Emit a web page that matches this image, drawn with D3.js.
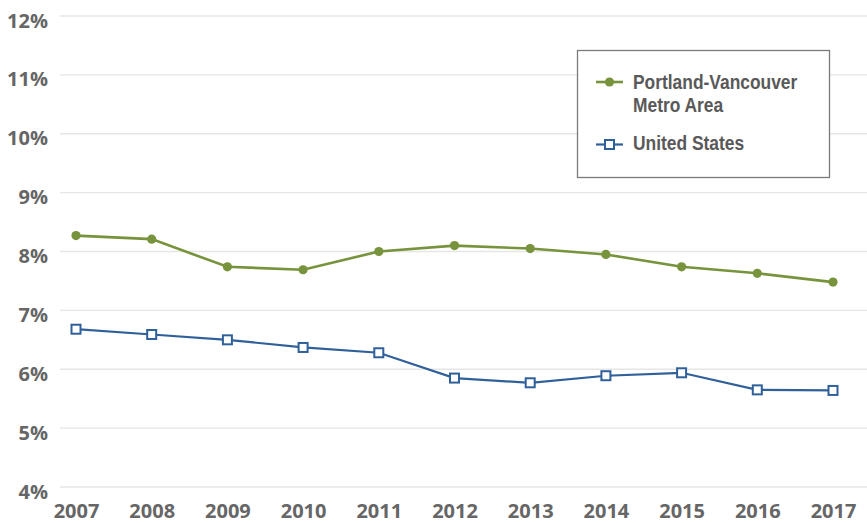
<!DOCTYPE html>
<html><head><meta charset="utf-8">
<script src="https://cdn.jsdelivr.net/npm/d3@7"></script>
<style>
html,body{margin:0;padding:0;background:#fff;}
svg{display:block;}
</style></head>
<body>
<svg id="chart" width="867" height="523"></svg>
<script>
const years = ["2007","2008","2009","2010","2011","2012","2013","2014","2015","2016","2017"];
const portland = [8.27, 8.21, 7.74, 7.69, 8.00, 8.10, 8.05, 7.95, 7.74, 7.63, 7.48];
const unitedStates = [6.68, 6.59, 6.50, 6.37, 6.28, 5.85, 5.77, 5.89, 5.94, 5.65, 5.64];
const yTicks = [4, 5, 6, 7, 8, 9, 10, 11, 12];
const seriesNames = ["Portland-Vancouver Metro Area", "United States"];

const svg = d3.select("#chart");
const green = "#77933c", blue = "#30609a";
const tickFont = "'Open Sans', 'Liberation Sans', sans-serif";
const legFont = "'Liberation Sans', Arial, sans-serif";

const x = d3.scalePoint().domain(years).range([76, 833]);
const y = d3.scaleLinear().domain([4, 12]).range([487, 16]);

// gridlines
svg.append("g").selectAll("line").data(yTicks).join("line")
  .attr("x1", 60).attr("x2", 867)
  .attr("y1", d => y(d)).attr("y2", d => y(d))
  .attr("stroke", "#e6e6e6").attr("stroke-width", 1.3);

// y axis
const yAxis = svg.append("g").attr("transform", "translate(48,0)")
  .call(d3.axisLeft(y).tickValues(yTicks).tickFormat(d => d + "%").tickSize(0).tickPadding(0));
yAxis.select(".domain").remove();
yAxis.selectAll("text").attr("font-family", tickFont).attr("font-weight", 700)
  .attr("font-size", 20).attr("fill", "#666").attr("dy", "0.55em");

// x axis
const xAxis = svg.append("g").attr("transform", "translate(0,499)")
  .call(d3.axisBottom(x).tickSize(0).tickPadding(0));
xAxis.select(".domain").remove();
xAxis.selectAll("text").attr("font-family", tickFont).attr("font-weight", 700)
  .attr("font-size", 20).attr("fill", "#666").attr("dy", "0.95em");

const line = d3.line().x((d, i) => x(years[i])).y(d => y(d));

// Portland
svg.append("path").datum(portland).attr("d", line)
  .attr("fill", "none").attr("stroke", green).attr("stroke-width", 2.6);
svg.append("g").selectAll("circle").data(portland).join("circle")
  .attr("cx", (d, i) => x(years[i])).attr("cy", d => y(d)).attr("r", 4.6).attr("fill", green);

// US
svg.append("path").datum(unitedStates).attr("d", line)
  .attr("fill", "none").attr("stroke", blue).attr("stroke-width", 2.2);
svg.append("g").selectAll("rect").data(unitedStates).join("rect")
  .attr("x", (d, i) => x(years[i]) - 4.5).attr("y", d => y(d) - 4.5)
  .attr("width", 9).attr("height", 9)
  .attr("fill", "#fff").attr("stroke", blue).attr("stroke-width", 2);

// legend
const leg = svg.append("g");
leg.append("rect").attr("x", 577.5).attr("y", 50.5).attr("width", 252).attr("height", 127)
  .attr("fill", "#fff").attr("stroke", "#7a7a7a").attr("stroke-width", 1.3);
leg.append("line").attr("x1", 596).attr("x2", 623).attr("y1", 82).attr("y2", 82)
  .attr("stroke", green).attr("stroke-width", 2.6);
leg.append("circle").attr("cx", 609.5).attr("cy", 82).attr("r", 4.6).attr("fill", green);
leg.append("line").attr("x1", 596).attr("x2", 623).attr("y1", 144.5).attr("y2", 144.5)
  .attr("stroke", blue).attr("stroke-width", 2.2);
leg.append("rect").attr("x", 605).attr("y", 140).attr("width", 9).attr("height", 9)
  .attr("fill", "#fff").attr("stroke", blue).attr("stroke-width", 2);

const legText = leg.append("g").attr("transform", "translate(633,0) scale(0.87,1)");
const t1 = legText.append("text").attr("font-family", legFont).attr("font-weight", "bold")
  .attr("font-size", 20).attr("fill", "#595959");
t1.append("tspan").attr("x", 0).attr("y", 89.5).text("Portland-Vancouver");
t1.append("tspan").attr("x", 0).attr("y", 112.5).text("Metro Area");
legText.append("text").attr("font-family", legFont).attr("font-weight", "bold")
  .attr("font-size", 20).attr("fill", "#595959")
  .attr("x", 0).attr("y", 150.5).text(seriesNames[1]);
</script>
</body></html>
